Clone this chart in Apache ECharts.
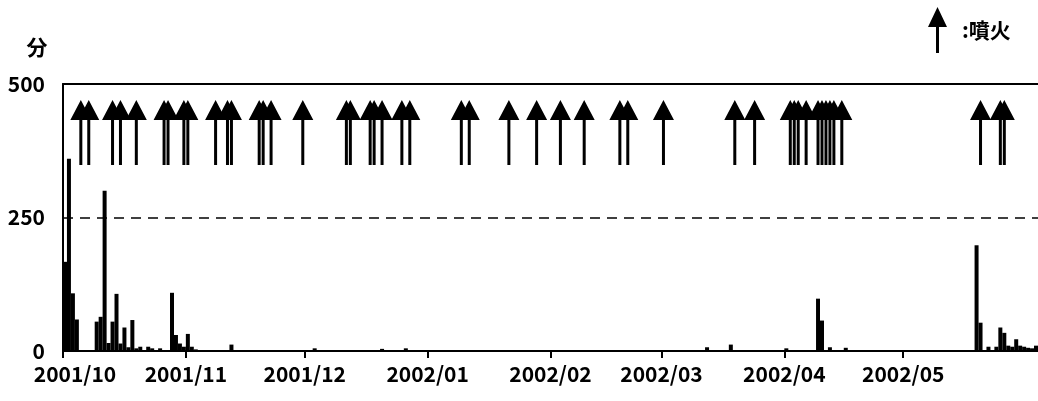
<!DOCTYPE html>
<html><head><meta charset="utf-8">
<script src="https://cdn.jsdelivr.net/npm/echarts@6/dist/echarts.min.js"></script>
<style>html,body{margin:0;padding:0;background:#fff}#chart{width:1038px;height:401px}</style>
</head><body><div id="chart"></div>
<script>
// ---- data ----
const barDates = [
  '2001-10-01','2001-10-02','2001-10-03','2001-10-04','2001-10-09','2001-10-10','2001-10-11','2001-10-12',
  '2001-10-13','2001-10-14','2001-10-15','2001-10-16','2001-10-17','2001-10-18','2001-10-19','2001-10-20',
  '2001-10-22','2001-10-23','2001-10-25','2001-10-28','2001-10-29','2001-10-30','2001-10-31','2001-11-01',
  '2001-11-02','2001-11-03','2001-11-12','2001-12-03','2001-12-20','2001-12-26','2002-03-12','2002-03-18',
  '2002-04-01','2002-04-09','2002-04-10','2002-04-12','2002-04-16','2002-05-19','2002-05-20','2002-05-22',
  '2002-05-24','2002-05-25','2002-05-26','2002-05-27','2002-05-28','2002-05-29','2002-05-30','2002-05-31',
  '2002-06-01','2002-06-02','2002-06-03'
];
const barMinutes = [
  167,360,108,59,55,64,300,15,
  55,107,14,44,7,58,5,8,
  8,5,5,109,30,14,8,32,
  8,3,12,5,4,5,7,12,
  5,98,57,7,6,198,53,8,
  8,44,34,10,8,22,10,8,
  6,5,10
];
const eruptionDates = [
  '2001-10-05','2001-10-07','2001-10-13','2001-10-15','2001-10-19','2001-10-26','2001-10-27','2001-10-31',
  '2001-11-01','2001-11-08','2001-11-11','2001-11-12','2001-11-19','2001-11-20','2001-11-22','2001-11-30',
  '2001-12-11','2001-12-12','2001-12-17','2001-12-18','2001-12-20','2001-12-25','2001-12-27',
  '2002-01-09','2002-01-11','2002-01-21','2002-01-28','2002-02-03','2002-02-09','2002-02-18','2002-02-20',
  '2002-03-01','2002-03-19','2002-03-24','2002-04-02','2002-04-03','2002-04-04','2002-04-06','2002-04-09',
  '2002-04-10','2002-04-11','2002-04-12','2002-04-13','2002-04-15','2002-05-20','2002-05-25','2002-05-26'
];
const monthTicks = ['2001-10-01','2001-11-01','2001-12-01','2002-01-01','2002-02-01','2002-03-01','2002-04-01','2002-05-01'];
const yTicks = [0, 250, 500];
const thresholdMinutes = 250;
const axisStart = '2001-10-01';
const axisEnd = '2002-06-04';
const yUnit = '分';
const eruptionLabel = ':噴火';

// ---- helpers ----
function parseDay(s, hour) {
  const p = s.split('-').map(Number);
  return new Date(p[0], p[1] - 1, p[2], hour || 0).getTime();
}
function fmtMonth(v) {
  const d = new Date(v);
  const m = d.getMonth() + 1;
  return d.getFullYear() + '/' + (m < 10 ? '0' + m : m);
}
const ARROW_LEVEL = 409;
const arrowPath = 'path://M10.5,0 L21,20 L12,20 L12,65 L9,65 L9,20 L0,20 Z';
const legendArrow = 'path://M9.5,0 L19,20 L11,20 L11,46 L8,46 L8,20 L0,20 Z';
const FONT = '"Noto Sans CJK JP", "Noto Sans", sans-serif';
const labelFont = {color: '#000', fontSize: 21, fontWeight: 'bold', fontFamily: FONT};

const chart = echarts.init(document.getElementById('chart'), null, {renderer: 'canvas'});
const tickTimes = monthTicks.map(s => parseDay(s, 0));
const xMin = parseDay(axisStart, 0), xMax = parseDay(axisEnd, 0);

chart.setOption({
  animation: false,
  backgroundColor: '#fff',
  grid: {left: 63, right: 0, top: 84, bottom: 50, containLabel: false, outerBoundsMode: 'none'},
  legend: {
    left: 928, top: 7, padding: 0, selectedMode: false,
    itemWidth: 19, itemHeight: 46,
    data: [{name: eruptionLabel, icon: legendArrow}],
    textStyle: Object.assign({}, labelFont, {padding: [0, 0, 0, 10]})
  },
  xAxis: [{
    type: 'value', scale: true,
    min: xMin, max: xMax,
    axisLine: {show: true, lineStyle: {color: '#000', width: 2}},
    axisTick: {show: true, customValues: tickTimes, length: 7, lineStyle: {color: '#000', width: 2}},
    axisLabel: Object.assign({}, labelFont, {
      customValues: tickTimes,
      formatter: function (v) {
        const s = fmtMonth(v);
        return v === tickTimes[0] ? '{first|' + s + '}' : s;
      },
      rich: {first: Object.assign({}, labelFont, {padding: [0, 0, 0, 24]})},
      margin: 14, lineHeight: 18, hideOverlap: false
    }),
    splitLine: {show: false}
  }, {
    type: 'value', position: 'top', scale: true,
    min: xMin, max: xMax,
    axisLine: {show: true, onZero: false, lineStyle: {color: '#000', width: 2}},
    axisTick: {show: false}, axisLabel: {show: false}, splitLine: {show: false}
  }],
  yAxis: {
    type: 'value', min: yTicks[0], max: yTicks[yTicks.length - 1], interval: yTicks[1] - yTicks[0],
    name: yUnit, nameLocation: 'end', nameGap: 26,
    nameTextStyle: Object.assign({}, labelFont, {padding: [0, 52, 0, 0]}),
    axisLine: {show: true, lineStyle: {color: '#000', width: 2}},
    axisTick: {show: false},
    axisLabel: Object.assign({}, labelFont, {margin: 18, lineHeight: 16}),
    splitLine: {show: false}
  },
  series: [{
    type: 'bar', name: 'minutes', xAxisIndex: 0,
    barWidth: 4,
    itemStyle: {color: '#000'},
    data: barDates.map((d, i) => [parseDay(d, 12), barMinutes[i]]),
    markLine: {
      silent: true, symbol: 'none', label: {show: false},
      lineStyle: {color: '#000', type: [10, 7], width: 1.5},
      data: [{yAxis: thresholdMinutes}]
    }
  }, {
    type: 'scatter', name: eruptionLabel, xAxisIndex: 0,
    symbol: arrowPath, symbolSize: [21, 65],
    itemStyle: {color: '#000', opacity: 1},
    data: eruptionDates.map(d => [parseDay(d, 12), ARROW_LEVEL]),
    z: 5
  }]
});
</script></body></html>
